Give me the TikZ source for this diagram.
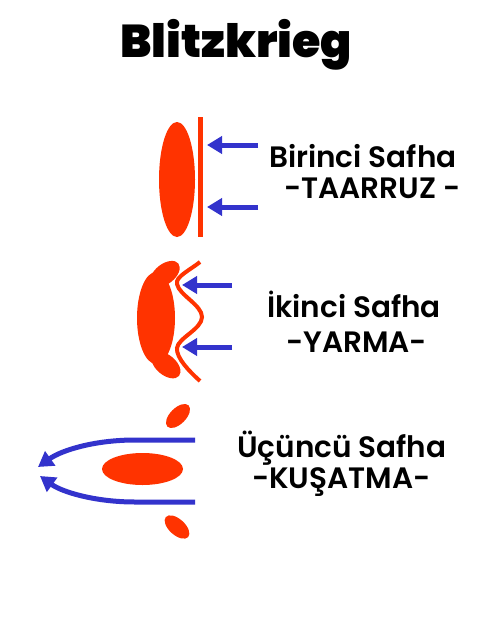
\documentclass[tikz,border=0pt]{standalone}
\usepackage{fontspec}
\setmainfont{Poppins}[UprightFont=* SemiBold,BoldFont=* Black]
\usetikzlibrary{arrows.meta}

\begin{document}
\begin{tikzpicture}[x=1pt,y=-1pt,
    every node/.style={inner sep=0pt,text=black},
    label/.style={anchor=base west,font=\fontsize{29.5}{32}\selectfont},
    push/.style={draw=color2,line width=5pt,-{Triangle[width=17pt,length=15pt]}}
  ]
  \definecolor{color1}{HTML}{FF3300}
  \definecolor{color2}{HTML}{3333CC}

  \useasboundingbox[fill=white] (0,0) rectangle (477,642);

  \node[anchor=base west,font=\fontsize{46}{50}\bfseries] (title) at (120,58) {Blitzkrieg};

  % first phase
  \fill[color1] (177,179.5) ellipse[x radius=18,y radius=57.5];
  \draw[color1,line width=5pt] (200.5,117) -- (200.5,237);
  \coordinate (a1s) at (258,145);
  \coordinate (a1e) at (207,145);
  \coordinate (a2s) at (258,207);
  \coordinate (a2e) at (207,207);
  \draw[push] (a1s) -- (a1e);
  \draw[push] (a2s) -- (a2e);
  \node[label] (phase1)  at (269,167) {Birinci Safha};
  \node[label] (attack)  at (284,198) {-TAARRUZ -};

  % second phase
  \fill[color1] (156,318) ellipse[x radius=19,y radius=46];
  \fill[color1,rotate around={38:(165,274)}] (165,274) ellipse[x radius=17,y radius=10];
  \fill[color1,rotate around={-40:(166,365)}] (166,365) ellipse[x radius=17,y radius=10];
  \draw[color1,line width=4pt] (200,262) .. controls (190,270) and (175,277) .. (177,284)
    .. controls (179,295) and (202,305) .. (202,317)
    .. controls (202,329) and (178,338) .. (177,348)
    .. controls (176,358) and (190,372) .. (200,381);
  \coordinate (b1s) at (232,285);
  \coordinate (b1e) at (182,285);
  \coordinate (b2s) at (232,347);
  \coordinate (b2e) at (182,347);
  \draw[push] (b1s) -- (b1e);
  \draw[push] (b2s) -- (b2e);
  \node[label] (phase2)  at (267,317) {İkinci Safha};
  \node[label] (breach)  at (286,352) {-YARMA-};

  % third phase
  \fill[color1] (142.5,469) ellipse[x radius=40.5,y radius=16];
  \fill[color1,rotate around={45:(178,416)}] (178,416) ellipse[x radius=15,y radius=8];
  \fill[color1,rotate around={-42:(177,527)}] (177,527) ellipse[x radius=15,y radius=8];
  \coordinate (c1s) at (195,440);
  \coordinate (c1m) at (135,440);
  \coordinate (c1e) at (38,467);
  \coordinate (c2s) at (195,502);
  \coordinate (c2m) at (135,502);
  \coordinate (c2e) at (40,476);
  \draw[push] (c1s) -- (c1m) .. controls (95,440) and (62,450) .. (c1e);
  \draw[push] (c2s) -- (c2m) .. controls (95,502) and (62,492) .. (c2e);
  \node[label] (phase3)  at (237,457) {Üçüncü Safha};
  \node[label] (encircle) at (252,488) {-KUŞATMA-};
\end{tikzpicture}
\end{document}
